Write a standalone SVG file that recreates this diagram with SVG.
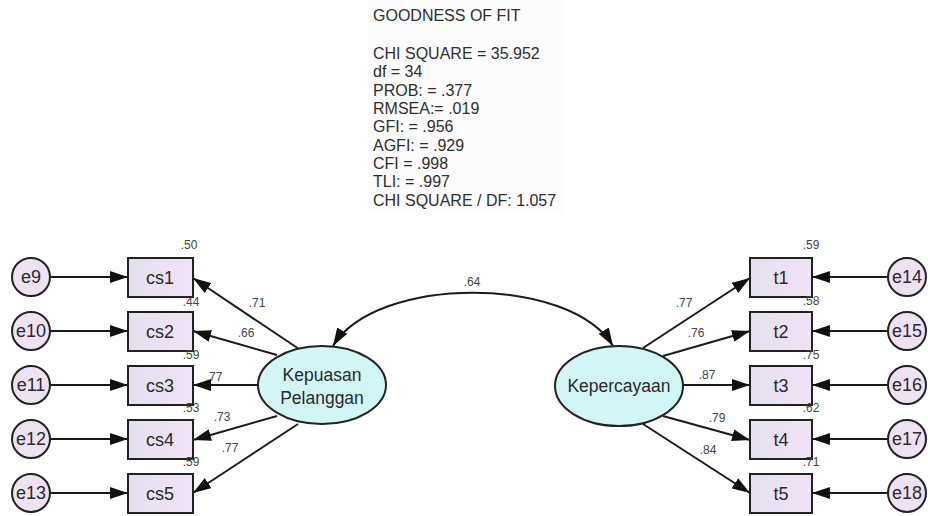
<svg xmlns="http://www.w3.org/2000/svg" width="928" height="516" viewBox="0 0 928 516">
<defs>
<linearGradient id="gbox" x1="0" y1="0" x2="1" y2="0">
<stop offset="0" stop-color="#e4e0ee"/>
<stop offset="1" stop-color="#f1e2f6"/>
</linearGradient>
<marker id="ah" viewBox="0 0 18 12" refX="18" refY="6" markerWidth="18" markerHeight="12" markerUnits="userSpaceOnUse" orient="auto-start-reverse">
<path d="M0,0 L18,6 L0,12 z" fill="#111"/>
</marker>
</defs>
<style>
.box{fill:url(#gbox);stroke:#222;stroke-width:2}
.err{fill:#ede1f2;stroke:#222;stroke-width:2}
.lat{fill:#d2f5f6;stroke:#222;stroke-width:2}
.lbl{font-family:"Liberation Sans",Arial,sans-serif;font-size:18px;fill:#2a2a2a;text-anchor:middle}
.lt{font-family:"Liberation Sans",Arial,sans-serif;font-size:17.5px;fill:#2a2a2a;text-anchor:middle}
.num{font-family:"Liberation Sans",Arial,sans-serif;font-size:12px;fill:#444;text-anchor:middle}
.fit{font-family:"Liberation Sans",Arial,sans-serif;font-size:16px;fill:#2e2e2e}
.ln{stroke:#1a1a1a;stroke-width:2;fill:none;marker-end:url(#ah)}
</style>
<rect width="928" height="516" fill="#fff"/>
<g id="fit-text">
<rect x="368" y="0" width="196" height="214" fill="#fcfcfc"/>
<text class="fit" x="373" y="21">GOODNESS OF FIT</text>
<text class="fit" x="373" y="59">CHI SQUARE = 35.952</text>
<text class="fit" x="373" y="77">df = 34</text>
<text class="fit" x="373" y="96">PROB: = .377</text>
<text class="fit" x="373" y="114">RMSEA:= .019</text>
<text class="fit" x="373" y="132">GFI: = .956</text>
<text class="fit" x="373" y="151">AGFI: = .929</text>
<text class="fit" x="373" y="169">CFI = .998</text>
<text class="fit" x="373" y="187">TLI: = .997</text>
<text class="fit" x="373" y="206">CHI SQUARE / DF: 1.057</text>
</g>
<g id="connectors">
<line class="ln" x1="50" y1="277" x2="128" y2="277"/>
<line class="ln" x1="50" y1="331" x2="128" y2="331"/>
<line class="ln" x1="50" y1="385" x2="128" y2="385"/>
<line class="ln" x1="50" y1="439" x2="128" y2="439"/>
<line class="ln" x1="50" y1="493" x2="128" y2="493"/>
<line class="ln" x1="888" y1="277" x2="812" y2="277"/>
<line class="ln" x1="888" y1="331" x2="812" y2="331"/>
<line class="ln" x1="888" y1="385" x2="812" y2="385"/>
<line class="ln" x1="888" y1="439" x2="812" y2="439"/>
<line class="ln" x1="888" y1="493" x2="812" y2="493"/>
<line class="ln" x1="299" y1="349" x2="193" y2="278"/>
<line class="ln" x1="277" y1="355" x2="193" y2="331"/>
<line class="ln" x1="258" y1="385" x2="193" y2="385"/>
<line class="ln" x1="277" y1="416" x2="193" y2="440"/>
<line class="ln" x1="298" y1="424" x2="193" y2="493"/>
<line class="ln" x1="643" y1="348" x2="750" y2="278"/>
<line class="ln" x1="663" y1="356" x2="750" y2="331"/>
<line class="ln" x1="683" y1="385" x2="750" y2="385"/>
<line class="ln" x1="663" y1="416" x2="750" y2="440"/>
<line class="ln" x1="643" y1="424" x2="750" y2="493"/>
<path class="ln" d="M333,346 C376,275 570,275 613,346" marker-start="url(#ah)"/>
<text class="num" x="472" y="286">.64</text>
<text class="num" x="257" y="307">.71</text>
<text class="num" x="246" y="337">.66</text>
<text class="num" x="214" y="381">.77</text>
<text class="num" x="222" y="421">.73</text>
<text class="num" x="230" y="452">.77</text>
<text class="num" x="684" y="307">.77</text>
<text class="num" x="696" y="337">.76</text>
<text class="num" x="707" y="379">.87</text>
<text class="num" x="717" y="422">.79</text>
<text class="num" x="708" y="454">.84</text>
</g>
<g id="e9"><circle class="err" cx="31" cy="277" r="19"/><text class="lbl" x="31" y="283">e9</text></g>
<g id="e10"><circle class="err" cx="31" cy="331" r="19"/><text class="lbl" x="31" y="337">e10</text></g>
<g id="e11"><circle class="err" cx="31" cy="385" r="19"/><text class="lbl" x="31" y="391">e11</text></g>
<g id="e12"><circle class="err" cx="31" cy="439" r="19"/><text class="lbl" x="31" y="445">e12</text></g>
<g id="e13"><circle class="err" cx="31" cy="493" r="19"/><text class="lbl" x="31" y="499">e13</text></g>
<g id="cs1"><rect class="box" x="128" y="258" width="65" height="39"/><text class="lbl" x="160" y="284">cs1</text><text class="num" x="189" y="249">.50</text></g>
<g id="cs2"><rect class="box" x="128" y="312" width="65" height="39"/><text class="lbl" x="160" y="338">cs2</text><text class="num" x="191" y="306">.44</text></g>
<g id="cs3"><rect class="box" x="128" y="366" width="65" height="39"/><text class="lbl" x="160" y="392">cs3</text><text class="num" x="191" y="359">.59</text></g>
<g id="cs4"><rect class="box" x="128" y="420" width="65" height="39"/><text class="lbl" x="160" y="446">cs4</text><text class="num" x="191" y="412">.53</text></g>
<g id="cs5"><rect class="box" x="128" y="474" width="65" height="39"/><text class="lbl" x="160" y="500">cs5</text><text class="num" x="191" y="466">.59</text></g>
<g id="kepuasan"><ellipse class="lat" cx="322" cy="385" rx="64" ry="39"/><text class="lt" x="322" y="381">Kepuasan</text><text class="lt" x="322" y="404">Pelanggan</text></g>
<g id="kepercayaan"><ellipse class="lat" cx="619" cy="386" rx="64" ry="40"/><text class="lt" x="619" y="392">Kepercayaan</text></g>
<g id="t1"><rect class="box" x="750" y="258" width="62" height="39"/><text class="lbl" x="781" y="284">t1</text><text class="num" x="811" y="249">.59</text></g>
<g id="t2"><rect class="box" x="750" y="312" width="62" height="39"/><text class="lbl" x="781" y="338">t2</text><text class="num" x="811" y="305">.58</text></g>
<g id="t3"><rect class="box" x="750" y="366" width="62" height="39"/><text class="lbl" x="781" y="392">t3</text><text class="num" x="811" y="359">.75</text></g>
<g id="t4"><rect class="box" x="750" y="420" width="62" height="39"/><text class="lbl" x="781" y="446">t4</text><text class="num" x="811" y="412">.62</text></g>
<g id="t5"><rect class="box" x="750" y="474" width="62" height="39"/><text class="lbl" x="781" y="500">t5</text><text class="num" x="811" y="466">.71</text></g>
<g id="e14"><circle class="err" cx="907" cy="277" r="19"/><text class="lbl" x="907" y="283">e14</text></g>
<g id="e15"><circle class="err" cx="907" cy="331" r="19"/><text class="lbl" x="907" y="337">e15</text></g>
<g id="e16"><circle class="err" cx="907" cy="385" r="19"/><text class="lbl" x="907" y="391">e16</text></g>
<g id="e17"><circle class="err" cx="907" cy="439" r="19"/><text class="lbl" x="907" y="445">e17</text></g>
<g id="e18"><circle class="err" cx="907" cy="493" r="19"/><text class="lbl" x="907" y="499">e18</text></g>
</svg>
